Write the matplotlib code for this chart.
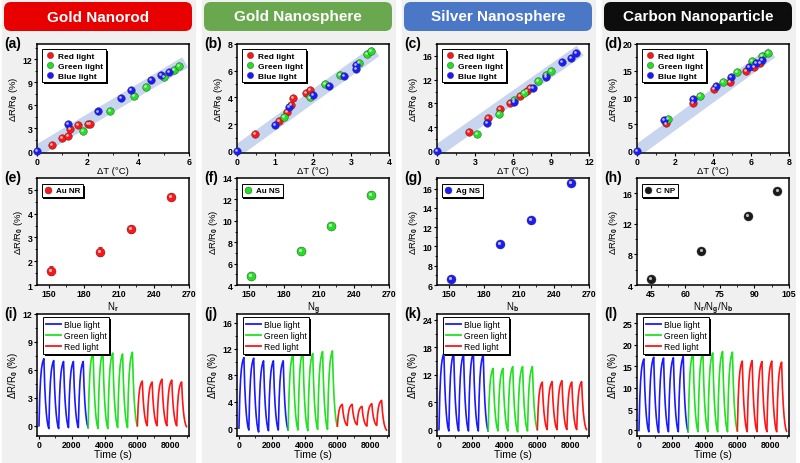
import numpy as np
import matplotlib
matplotlib.use("Agg")
import matplotlib.pyplot as plt
from matplotlib.patches import FancyBboxPatch, Rectangle
from matplotlib.lines import Line2D
from matplotlib.transforms import IdentityTransform, offset_copy
from matplotlib.ticker import AutoMinorLocator, MultipleLocator

plt.rcParams['font.family'] = ['Liberation Sans', 'DejaVu Sans']
plt.rcParams['font.weight'] = 'bold'
plt.rcParams['mathtext.fontset'] = 'custom'
plt.rcParams['mathtext.rm'] = 'Liberation Sans:bold'
plt.rcParams['mathtext.it'] = 'Liberation Sans:bold'
plt.rcParams['mathtext.default'] = 'rm'

# ---- headers
TITLES = ['Gold Nanorod', 'Gold Nanosphere', 'Silver Nanosphere', 'Carbon Nanoparticle']
TITLE_COLORS = ['#e80000', '#6aa84f', '#4a78c6', '#0d0d0d']

# ---- row 1: dR/R0 vs dT (red, green, blue light)
A_RED_X = [0.60, 1.00, 1.21, 1.30, 1.61, 2.01, 2.11]
A_RED_Y = [0.74, 1.70, 1.91, 2.83, 3.39, 3.48, 3.52]
A_GREEN_X = [1.80, 2.90, 3.81, 4.32, 5.03, 5.41, 5.61]
A_GREEN_Y = [2.65, 5.26, 7.21, 8.35, 9.69, 10.56, 11.13]
A_BLUE_X = [0.0, 1.21, 2.41, 3.30, 3.71, 4.51, 4.91, 5.21]
A_BLUE_Y = [0.0, 3.56, 5.17, 7.00, 8.00, 9.34, 9.95, 10.39]

B_RED_X = [0.47, 1.11, 1.31, 1.41, 1.47, 1.81, 1.91]
B_RED_Y = [1.28, 2.27, 2.94, 3.41, 3.95, 4.32, 4.57]
B_GREEN_X = [1.23, 1.92, 2.32, 2.71, 3.22, 3.42, 3.53]
B_GREEN_Y = [2.54, 4.00, 4.99, 5.70, 6.61, 7.28, 7.48]
B_BLUE_X = [0.0, 1.01, 1.37, 2.01, 2.42, 2.82, 3.12, 3.12]
B_BLUE_Y = [0.0, 1.98, 3.31, 4.17, 4.89, 5.61, 6.15, 6.40]

C_RED_X = [2.55, 4.05, 4.97, 5.76, 6.55, 7.10, 7.34]
C_RED_Y = [3.25, 5.61, 7.07, 8.13, 9.26, 10.10, 10.55]
C_GREEN_X = [3.16, 4.87, 6.08, 6.89, 7.97, 8.58, 9.00]
C_GREEN_Y = [2.86, 6.23, 8.59, 9.81, 11.78, 12.79, 13.47]
C_BLUE_X = [0.0, 3.97, 6.08, 7.58, 8.58, 9.87, 10.60, 10.99]
C_BLUE_Y = [0.0, 4.66, 8.30, 10.55, 12.46, 14.98, 15.70, 16.45]

D_RED_X = [1.55, 2.96, 4.06, 4.89, 5.76, 6.18, 6.48]
D_RED_Y = [5.14, 8.95, 11.50, 12.95, 14.90, 15.77, 16.40]
D_GREEN_X = [1.64, 3.34, 4.54, 5.25, 6.06, 6.59, 6.87]
D_GREEN_Y = [5.89, 10.20, 12.90, 14.70, 16.76, 17.76, 18.26]
D_BLUE_X = [0.0, 1.43, 2.94, 4.15, 4.96, 5.87, 6.27, 6.57]
D_BLUE_Y = [0.0, 5.76, 9.64, 12.20, 13.77, 15.65, 16.45, 17.00]

BAND_END = [(5.85, 11.6), (3.65, 7.45), (11.3, 16.9), (7.1, 18.4)]

# ---- row 2: dR/R0 vs particle count
E_X = [152, 194, 220, 255]
E_Y = [1.60, 2.40, 3.35, 4.72]
E_ERR = [0.20, 0.20, 0.15, 0.10]
F_X = [152, 195, 220, 255]
F_Y = [4.80, 7.15, 9.50, 12.45]
G_X = [152, 194, 220, 255]
G_Y = [6.65, 10.30, 12.75, 16.55]
H_X = [45, 67, 87, 100]
H_Y = [4.80, 8.50, 13.05, 16.30]

# ---- row 3: cycling (5 blue, 5 green, 5 red cycles of 600 s)
I_PEAK = [7.2, 7.0, 6.9, 6.9, 6.9, 7.9, 7.9, 7.8, 7.7, 7.9, 4.8, 4.7, 5.0, 4.9, 4.7]
I_TROUGH = [-0.3, -0.3, -0.2, -0.2, -0.2, -0.3, -0.3, -0.2, -0.2, 0.0, 0.0, 0.0, 0.0, 0.0, -0.1]
J_PEAK = [10.7, 10.6, 10.2, 10.2, 10.2, 11.2, 11.7, 11.3, 11.6, 11.7, 3.6, 3.6, 3.3, 3.7, 4.2]
J_TROUGH = [-0.3, -0.6, -0.4, -0.3, -0.3, -0.3, -0.4, -0.2, -0.2, 0.3, 0.4, 0.5, 0.3, 0.4, -0.3]
K_PEAK = [16.7, 16.7, 16.5, 16.85, 16.4, 13.4, 13.4, 13.8, 13.8, 13.8, 10.4, 10.5, 10.7, 10.4, 10.5]
K_TROUGH = [-0.3, -0.3, -0.3, -0.3, -0.3, -0.3, -0.3, -0.5, -0.3, 0.0, 0.0, 0.0, 0.0, 0.0, 0.0]
L_PEAK = [16.7, 17.1, 16.9, 17.0, 17.25, 18.1, 18.3, 18.1, 18.45, 18.3, 16.2, 16.3, 16.1, 16.2, 15.95]
L_TROUGH = [-0.3, -0.5, -0.3, -0.3, -0.3, -0.3, -0.3, -0.3, -0.3, -0.1, -0.3, -0.3, -0.3, -0.3, -0.2]
RISE = [0.0, 0.45, 0.70, 0.84, 0.92, 0.97, 1.0]   # normalised response while light on
FALL = [1.0, 0.62, 0.38, 0.22, 0.11, 0.04, 0.0]   # normalised response while light off
PERIOD = 600

RED, GREEN, BLUE, BLACK = '#ff1515', '#22e022', '#1a1aff', '#111111'

W, H = 800, 464
fig = plt.figure(figsize=(W / 100, H / 100), dpi=100)

# column backgrounds and banners
for c in range(4):
    fig.patches.append(Rectangle((200 * c + 2, 0), 193, H, transform=IdentityTransform(),
                                 color='#f0f0f0', zorder=-3))
    fig.patches.append(FancyBboxPatch((200 * c + 4, H - 32), 188, 29,
                                      boxstyle='round,pad=0,rounding_size=7',
                                      transform=IdentityTransform(), facecolor=TITLE_COLORS[c],
                                      edgecolor='none', zorder=-2))
    fig.text((200 * c + 98) / W, 1 - 17.5 / H, TITLES[c], color='white', fontsize=11,
             fontweight='bold', ha='center', va='center')

ROWS = [(45, 154), (179, 286), (315, 437)]
legends = []


def make_ax(row, col, label):
    top, bot = ROWS[row]
    left = 37 + 200 * col
    ax = fig.add_axes([left / W, 1 - bot / H, 152 / W, (bot - top) / H])
    for s in ax.spines.values():
        s.set_linewidth(1.1)
    ax.tick_params(direction='out', length=2.2, width=0.8, labelsize=6.3, pad=1)
    ax.tick_params(which='minor', direction='out', length=1.3, width=0.6)
    ax.xaxis.set_minor_locator(AutoMinorLocator(2))
    ax.yaxis.set_minor_locator(AutoMinorLocator(2))
    fig.text((200 * col + 4) / W, 1 - (top - 1) / H, label, fontsize=10, fontweight='bold',
             ha='left', va='center')
    return ax


def balls(ax, x, y, color, ms=5.5):
    ax.plot(x, y, 'o', ms=ms, color=color, mec='#333333', mew=0.3, zorder=3, clip_on=False)
    tr = offset_copy(ax.transData, fig=fig, x=-0.7, y=0.7, units='points')
    ax.plot(x, y, 'o', ms=ms * 0.35, color='white', mew=0, alpha=0.7, transform=tr,
            zorder=3.1, clip_on=False)


def boxed_legend(ax, handles, labels, **kw):
    leg = ax.legend(handles, labels, loc='upper left', frameon=True, fancybox=False,
                    borderpad=0.35, labelspacing=0.25, **kw)
    fr = leg.get_frame()
    fr.set_edgecolor('black')
    fr.set_linewidth(0.7)
    fr.set_facecolor('white')
    fr.set_alpha(1)
    legends.append((ax, leg))
    return leg


# ---- row 1
row1 = [
    ('(a)', (A_RED_X, A_RED_Y), (A_GREEN_X, A_GREEN_Y), (A_BLUE_X, A_BLUE_Y), (0, 6), 2, (-0.26, 14), 3),
    ('(b)', (B_RED_X, B_RED_Y), (B_GREEN_X, B_GREEN_Y), (B_BLUE_X, B_BLUE_Y), (0, 4), 1, (-0.15, 8), 2),
    ('(c)', (C_RED_X, C_RED_Y), (C_GREEN_X, C_GREEN_Y), (C_BLUE_X, C_BLUE_Y), (0, 12), 3, (-0.34, 18), 4),
    ('(d)', (D_RED_X, D_RED_Y), (D_GREEN_X, D_GREEN_Y), (D_BLUE_X, D_BLUE_Y), (0, 8), 2, (-0.38, 20), 5),
]
for c, (lab, r, g, b, xl, xs, yl, ys) in enumerate(row1):
    ax = make_ax(0, c, lab)
    ex, ey = BAND_END[c]
    ax.plot([-0.03 * ex, ex], [-0.03 * ey, ey], color='#c8d5ee', lw=8.5,
            solid_capstyle='butt', zorder=1)
    balls(ax, *r, RED)
    balls(ax, *g, GREEN)
    balls(ax, *b, BLUE)
    ax.set_xlim(*xl)
    ax.set_ylim(*yl)
    ax.xaxis.set_major_locator(MultipleLocator(xs))
    ax.yaxis.set_major_locator(MultipleLocator(ys))
    ax.set_xlabel('ΔT (°C)', fontsize=6.8, labelpad=0)
    ax.set_ylabel('ΔR/R$_0$ (%)', fontsize=6.8, labelpad=2)
    hs = [Line2D([], [], marker='o', ls='none', ms=4.5, color=col, mec='#333333', mew=0.3)
          for col in (RED, GREEN, BLUE)]
    boxed_legend(ax, hs, ['Red light', 'Green light', 'Blue light'],
                 fontsize=6, bbox_to_anchor=(0.02, 0.97), borderaxespad=0.2,
                 handlelength=1.2, handletextpad=0.4)

# ---- row 2
row2 = [
    ('(e)', E_X, E_Y, RED, 'Au NR', 'N$_r$', (140, 270), 30, (1, 5.5), 1),
    ('(f)', F_X, F_Y, GREEN, 'Au NS', 'N$_g$', (140, 270), 30, (4, 14), 2),
    ('(g)', G_X, G_Y, BLUE, 'Ag NS', 'N$_b$', (140, 270), 30, (6, 17.1), 2),
    ('(h)', H_X, H_Y, '#1a1a1a', 'C NP', 'N$_r$/N$_g$/N$_b$', (39, 105), 15, (4, 18), 4),
]
for c, (lab, x, y, col, name, xlab, xl, xs, yl, ys) in enumerate(row2):
    ax = make_ax(1, c, lab)
    if c == 0:
        ax.errorbar(x, y, yerr=E_ERR, fmt='none', ecolor=col, elinewidth=0.7, capsize=1.5,
                    capthick=0.7, zorder=2.5)
    balls(ax, x, y, col, ms=6.5)
    ax.set_xlim(*xl)
    ax.set_ylim(*yl)
    ax.xaxis.set_major_locator(MultipleLocator(xs))
    ax.yaxis.set_major_locator(MultipleLocator(ys))
    ax.set_xlabel(xlab, fontsize=7, labelpad=0.5)
    ax.set_ylabel('ΔR/R$_0$ (%)', fontsize=6.8, labelpad=2)
    hs = [Line2D([], [], marker='o', ls='none', ms=5, color=col, mec='#333333', mew=0.3)]
    boxed_legend(ax, hs, [name], fontsize=5.8, bbox_to_anchor=(0.02, 0.96),
                 borderaxespad=0.2, handlelength=1.0, handletextpad=0.4)

# ---- row 3
row3 = [
    ('(i)', I_PEAK, I_TROUGH, (-1.1, 12), 3),
    ('(j)', J_PEAK, J_TROUGH, (-1.2, 17.3), 4),
    ('(k)', K_PEAK, K_TROUGH, (-1.4, 25.3), 6),
    ('(l)', L_PEAK, L_TROUGH, (-1.3, 27.2), 5),
]
dt = PERIOD / 2 / (len(RISE) - 1)
for c, (lab, peaks, troughs, yl, ys) in enumerate(row3):
    ax = make_ax(2, c, lab)
    start = 0.0
    segs = {BLUE: ([], []), GREEN: ([], []), RED: ([], [])}
    order = [BLUE, GREEN, RED]
    for k in range(len(peaks)):
        col = order[k // 5]
        ts, vs = segs[col]
        if k % 5 == 0 and k > 0:
            ts.append(k * PERIOD)
            vs.append(start)
        t0 = k * PERIOD
        for i, f in enumerate(RISE):
            ts.append(t0 + i * dt)
            vs.append(start + (peaks[k] - start) * f)
        for i, f in enumerate(FALL):
            ts.append(t0 + PERIOD / 2 + i * dt)
            vs.append(troughs[k] + (peaks[k] - troughs[k]) * f)
        start = troughs[k]
    for col in order:
        ax.plot(*segs[col], color=col, lw=1.2)
    ax.set_xlim(-120, 9150)
    ax.set_ylim(*yl)
    ax.xaxis.set_major_locator(MultipleLocator(2000))
    ax.yaxis.set_major_locator(MultipleLocator(ys))
    ax.set_xlabel('Time (s)', fontsize=7.5, labelpad=0)
    ax.set_ylabel('ΔR/R$_0$ (%)', fontsize=7, labelpad=2)
    hs = [Line2D([], [], color=col, lw=1.3) for col in order]
    leg = boxed_legend(ax, hs, ['Blue light', 'Green light', 'Red light'],
                       fontsize=6.2, bbox_to_anchor=(0.03, 0.99), borderaxespad=0.2,
                       handlelength=1.7, handletextpad=0.3)
    for t in leg.get_texts():
        t.set_fontweight('normal')

# thin black drop shadow behind each legend box (Origin style)
fig.canvas.draw()
renderer = fig.canvas.get_renderer()
for ax, leg in legends:
    bb = leg.get_frame().get_window_extent(renderer)
    sh = Rectangle((bb.x0 + 1.8, bb.y0 - 1.8), bb.width, bb.height, transform=IdentityTransform(),
                   facecolor='black', edgecolor='none', zorder=leg.get_zorder() - 0.1,
                   clip_on=False)
    ax.add_artist(sh)

fig.savefig('out.png', dpi=100)
